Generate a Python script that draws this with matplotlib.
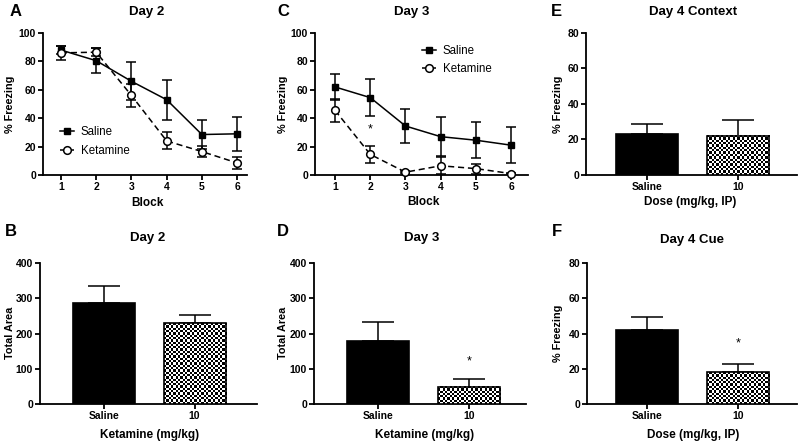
import matplotlib
matplotlib.use('Agg')
import matplotlib.pyplot as plt
import numpy as np

plt.rcParams['font.family'] = ['Liberation Sans', 'DejaVu Sans']
plt.rcParams['font.weight'] = 'bold'

# ---- data ----
blocks = [1, 2, 3, 4, 5, 6]
day2_saline = [88, 80.5, 66, 53, 28.5, 29]
day2_saline_err = [3, 9, 13.5, 14, 10.5, 12]
day2_ket = [86, 86.5, 56, 24, 16.5, 8.5]
day2_ket_err = [5, 3, 8, 6, 4, 4]

day3_saline = [62, 54.5, 34.5, 27, 24.5, 21]
day3_saline_err = [9, 13, 12, 13.5, 12.5, 12.5]
day3_ket = [45.5, 14.5, 2, 6.5, 4.5, 1]
day3_ket_err = [8, 6, 0.5, 6, 3.5, 0.5]

groups = ['Saline', '10']
area_day2 = [286, 229]
area_day2_err = [48, 23]
area_day3 = [180, 49]
area_day3_err = [53, 22]
context_day4 = [23, 22]
context_day4_err = [5.5, 9]
cue_day4 = [42, 18]
cue_day4_err = [7.5, 4.5]

W, H = 800, 442
fig = plt.figure(figsize=(W / 100, H / 100), dpi=100)


def add_ax(left, right, top, bottom):
    return fig.add_axes([left / W, 1 - bottom / H, (right - left) / W, (bottom - top) / H])


def ftext(x, y, s, **kw):
    fig.text(x / W, 1 - y / H, s, ha='center', va='center', **kw)


def style(ax):
    for side in ['top', 'right']:
        ax.spines[side].set_visible(False)
    for side in ['left', 'bottom']:
        ax.spines[side].set_linewidth(1.3)
    ax.tick_params(width=1.3, length=3.5, labelsize=7.5, pad=1.5)


def line_panel(ax, sal, sal_err, ket, ket_err, xlim):
    ax.errorbar(blocks, sal, yerr=sal_err, fmt='none', ecolor='black',
                elinewidth=1.1, capsize=3.6, capthick=1.1, clip_on=False, zorder=3)
    ax.errorbar(blocks, ket, yerr=ket_err, fmt='none', ecolor='black',
                elinewidth=1.1, capsize=3.6, capthick=1.1, clip_on=False, zorder=3)
    l1, = ax.plot(blocks, sal, '-s', color='black', lw=1.1, ms=5, clip_on=False,
                  zorder=4, label='Saline')
    l2, = ax.plot(blocks, ket, 'o', ls=(0, (4, 2.5)), color='black', mfc='white',
                  mec='black', mew=1.1, lw=1.1, ms=5.5, clip_on=False, zorder=5,
                  label='Ketamine')
    ax.set_xlim(*xlim)
    ax.set_ylim(0, 100)
    ax.set_xticks(blocks)
    ax.set_yticks(range(0, 101, 20))
    style(ax)
    return [l1, l2]


def bar_panel(ax, vals, errs, xlim, ylim, ystep):
    x = np.arange(len(groups))
    ax.set_xlim(*xlim)
    ax.set_ylim(*ylim)
    ax.errorbar(x, vals, yerr=[[0] * len(vals), errs], fmt='none', ecolor='black',
                elinewidth=1.1, capsize=11.5, capthick=1.1, zorder=2)
    bars = ax.bar(x, vals, width=0.685, color=['black', 'none'], edgecolor='black',
                  linewidth=1.2, zorder=4)
    # checkerboard fill for the ketamine bar
    b = bars[1]
    x0, w, h = b.get_x(), b.get_width(), b.get_height()
    p0 = ax.transData.transform((x0, 0))
    p1 = ax.transData.transform((x0 + w, h))
    cell = 2.3
    nx = max(1, int(round((p1[0] - p0[0]) / cell)))
    ny = max(1, int(round((p1[1] - p0[1]) / cell)))
    img = np.indices((ny, nx)).sum(0) % 2
    ax.imshow(img, cmap='gray', extent=(x0, x0 + w, 0, h), origin='lower',
              aspect='auto', interpolation='nearest', zorder=3)
    ax.set_xlim(*xlim)
    ax.set_ylim(*ylim)
    ax.set_xticks(x)
    ax.set_xticklabels(groups)
    ax.set_yticks(np.arange(ylim[0], ylim[1] + 1, ystep))
    style(ax)


# ---- A ----
axA = add_ax(43, 247, 33, 175)
hA = line_panel(axA, day2_saline, day2_saline_err, day2_ket, day2_ket_err, (0.49, 6.28))
fig.legend(handles=hA, loc='center left', bbox_to_anchor=(60 / W, 1 - 141.5 / H),
           frameon=False, handlelength=1.2, handletextpad=0.6, labelspacing=0.6,
           borderpad=0, borderaxespad=0, prop={'size': 8.3, 'weight': 'normal'})

# ---- C ----
axC = add_ax(315, 528, 33, 175)
hC = line_panel(axC, day3_saline, day3_saline_err, day3_ket, day3_ket_err, (0.43, 6.48))
fig.legend(handles=hC, loc='center left', bbox_to_anchor=(422 / W, 1 - 60 / H),
           frameon=False, handlelength=1.2, handletextpad=0.6, labelspacing=0.6,
           borderpad=0, borderaxespad=0, prop={'size': 8.3, 'weight': 'normal'})
axC.text(2, 32, '*', ha='center', va='center', fontsize=9, fontweight='normal')

# ---- E ----
axE = add_ax(586, 797, 33, 175)
bar_panel(axE, context_day4, context_day4_err, (-0.67, 1.65), (0, 80), 20)

# ---- B ----
axB = add_ax(40, 257, 263, 404)
bar_panel(axB, area_day2, area_day2_err, (-0.707, 1.69), (0, 400), 100)

# ---- D ----
axD = add_ax(314, 526, 263, 404)
bar_panel(axD, area_day3, area_day3_err, (-0.703, 1.626), (0, 400), 100)
axD.text(1, area_day3[1] + area_day3_err[1] + 50, '*', ha='center', va='center',
         fontsize=9, fontweight='normal')

# ---- F ----
axF = add_ax(587, 797, 263, 404)
bar_panel(axF, cue_day4, cue_day4_err, (-0.66, 1.65), (0, 80), 20)
axF.text(1, cue_day4[1] + cue_day4_err[1] + 12, '*', ha='center', va='center',
         fontsize=9, fontweight='normal')

# ---- panel letters, titles, labels ----
for letter, x, y in [('A', 16, 12), ('C', 283, 12), ('E', 556, 12),
                     ('B', 11, 232), ('D', 283, 232), ('F', 557, 232)]:
    ftext(x, y, letter, fontsize=12, fontweight='bold')

for title, x, y in [('Day 2', 147, 12), ('Day 3', 412, 12), ('Day 4 Context', 693, 12),
                    ('Day 2', 148, 238), ('Day 3', 422, 238), ('Day 4 Cue', 692, 240)]:
    ftext(x, y, title, fontsize=9.5, fontweight='bold')

for lab, x, y in [('Block', 147, 203), ('Block', 423, 202), ('Dose (mg/kg, IP)', 690, 202),
                  ('Ketamine (mg/kg)', 150, 435), ('Ketamine (mg/kg)', 425, 435),
                  ('Dose (mg/kg, IP)', 693, 435)]:
    ftext(x, y, lab, fontsize=8.5, fontweight='bold')

for lab, x, y in [('% Freezing', 10, 104), ('% Freezing', 283, 104), ('% Freezing', 558, 104),
                  ('Total Area', 10, 333), ('Total Area', 283, 333), ('% Freezing', 558, 333)]:
    ftext(x, y, lab, fontsize=7.8, fontweight='bold', rotation=90)

fig.savefig('out.png', dpi=100)
